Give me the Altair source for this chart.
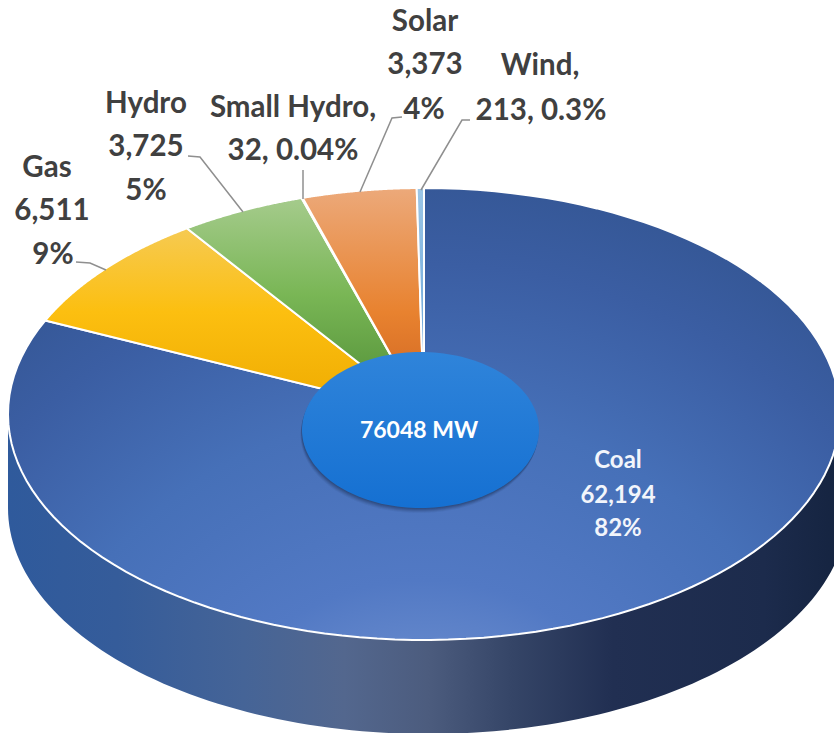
import math
import altair as alt

# Installed capacity by source (MW), clockwise from twelve o'clock
sources = ["Coal", "Gas", "Hydro", "Small Hydro", "Solar", "Wind"]
capacity = [62194, 6511, 3725, 32, 3373, 213]
shares = ["82%", "9%", "5%", "0.04%", "4%", "0.3%"]
total_label = "76048 MW"

W, H = 834, 733
FACE = dict(cx=424, cy=414, rx=416, ry=226)
BASE = dict(cx=428, cy=508, rx=420, ry=226)
HUB = dict(cx=420.5, cy=430, rx=118.5, ry=78)
IDENTITY = dict(type="identity", scale=1, translate=[0, 0])


def rim(e, turn):
    """Point on an ellipse; turn is the fraction of a clockwise circle from the top."""
    a = 2 * math.pi * turn
    return [e["cx"] + e["rx"] * math.sin(a), e["cy"] - e["ry"] * math.cos(a)]


def arc(e, t0, t1, n=120):
    return [rim(e, t0 + (t1 - t0) * i / n) for i in range(n + 1)]


def polygon(points):
    ring = points + [points[0]]
    return alt.Data(values=[{"type": "Feature", "properties": {},
                             "geometry": {"type": "Polygon", "coordinates": [ring]}}])


def polyline(points):
    return alt.Data(values=[{"type": "Feature", "properties": {},
                             "geometry": {"type": "LineString", "coordinates": points}}])


def vgrad(*stops):
    return alt.LinearGradient(
        gradient="linear", x1=0, y1=0, x2=0, y2=1,
        stops=[alt.GradientStop(offset=o, color=c) for o, c in stops],
    )


def shape(data, **mark):
    return alt.Chart(data).mark_geoshape(**mark).project(**IDENTITY)


# Rim of the disc: lower half of the face joined to the lower half of the base
side_points = arc(FACE, 0.25, 0.75) + arc(BASE, 0.75, 0.25)
side_fill = alt.LinearGradient(
    gradient="linear", x1=0, y1=0, x2=1, y2=0,
    stops=[
        alt.GradientStop(offset=0.0, color="#2f5a9c"),
        alt.GradientStop(offset=0.13, color="#355c9a"),
        alt.GradientStop(offset=0.28, color="#456497"),
        alt.GradientStop(offset=0.40, color="#53678e"),
        alt.GradientStop(offset=0.50, color="#4c5c7e"),
        alt.GradientStop(offset=0.60, color="#354567"),
        alt.GradientStop(offset=0.72, color="#212f52"),
        alt.GradientStop(offset=0.90, color="#1c2b4c"),
        alt.GradientStop(offset=1.0, color="#14233f"),
    ],
)
layers = [shape(polygon(side_points), fill=side_fill)]

# Pie slices on the face
fills = {
    "Coal": alt.RadialGradient(
        gradient="radial", x1=0.5, y1=1.0, x2=0.5, y2=1.0, r1=0, r2=1,
        stops=[
            alt.GradientStop(offset=0.0, color="#8aa4d8"),
            alt.GradientStop(offset=0.15, color="#7091d0"),
            alt.GradientStop(offset=0.3, color="#5279c4"),
            alt.GradientStop(offset=0.5, color="#4670b8"),
            alt.GradientStop(offset=0.68, color="#3b5ea3"),
            alt.GradientStop(offset=0.82, color="#335592"),
            alt.GradientStop(offset=1.0, color="#274782"),
        ],
    ),
    "Gas": vgrad((0, "#f6ca52"), (0.45, "#fcbf10"), (1, "#eeaa00")),
    "Hydro": vgrad((0, "#a5cb8c"), (0.45, "#79b655"), (1, "#4c8a33")),
    "Small Hydro": vgrad((0, "#a5cb8c"), (1, "#4c8a33")),
    "Solar": vgrad((0, "#eca97a"), (0.55, "#e8822f"), (1, "#cb6020")),
    "Wind": vgrad((0, "#9cc6e6"), (1, "#5b9bd5")),
}
total = sum(capacity)
start = 0.0
for name, mw in zip(sources, capacity):
    end = start + mw / total
    pts = [[FACE["cx"], FACE["cy"]]] + arc(FACE, start, end)
    layers.append(shape(polygon(pts), fill=fills[name], stroke="white", strokeWidth=2,
                        strokeJoin="round"))
    start = end

# Soft shadow and the central hub
hub_ring = arc(HUB, 0, 1, 160)[:-1]
for dy, op in ((5, 0.06), (4, 0.09), (3, 0.12), (2, 0.14), (1, 0.16)):
    shadow_ring = [[x - dy * 0.3, y + dy] for x, y in hub_ring]
    layers.append(shape(polygon(shadow_ring), fill="#14233f", fillOpacity=op))
layers.append(shape(polygon(hub_ring), fill=vgrad((0, "#2f84da"), (1, "#1570d2"))))

# Leader lines from outer labels to their slices
leaders = [
    [[76, 262], [90, 263], [106, 270]],
    [[188, 156], [200, 157], [243, 212]],
    [[303, 170], [303, 199]],
    [[402, 117], [392, 118], [360, 192]],
    [[470, 120], [462, 120], [421, 190]],
]
for line in leaders:
    layers.append(shape(polyline(line), filled=False, stroke="#8f8f8f", strokeWidth=1.5))

fmt = {s: f"{v:,}" for s, v in zip(sources, capacity)}
share = dict(zip(sources, shares))

# Each row: text, horizontal centre, vertical centre
outer_labels = [
    ("Gas", 47, 168), (fmt["Gas"], 52, 211), (share["Gas"], 53, 255),
    ("Hydro", 146, 104), (fmt["Hydro"], 146, 147), (share["Hydro"], 146, 191),
    ("Small Hydro,", 293, 108), (f'{fmt["Small Hydro"]}, {share["Small Hydro"]}', 293, 151),
    ("Solar", 425, 22), (fmt["Solar"], 425, 65), (share["Solar"], 424, 110),
    ("Wind,", 540, 66), (f'{fmt["Wind"]}, {share["Wind"]}', 541, 111),
]
inner_labels = [("Coal", 618, 461), (fmt["Coal"], 618, 496), (share["Coal"], 618, 529)]


def text_layer(rows, **mark):
    data = alt.Data(values=[{"t": t, "x": x, "y": y} for t, x, y in rows])
    return alt.Chart(data).mark_text(
        font="Lato", fontWeight="bold", align="center", baseline="middle", **mark
    ).encode(
        longitude="x:Q", latitude="y:Q", text="t:N"
    ).project(**IDENTITY)


layers.append(text_layer(outer_labels, fontSize=29.5, fill="#404040"))
layers.append(text_layer(inner_labels, fontSize=24, fill="#f2f5fb"))
layers.append(text_layer([(total_label, 419, 431)], fontSize=23, fill="white"))

chart = alt.layer(*layers).properties(
    width=W, height=H, padding=0,
    autosize=alt.AutoSizeParams(type="none"),
    background="white",
).configure_view(strokeWidth=0)

chart.save("out.html", embed_options={"renderer": "svg", "actions": False})
